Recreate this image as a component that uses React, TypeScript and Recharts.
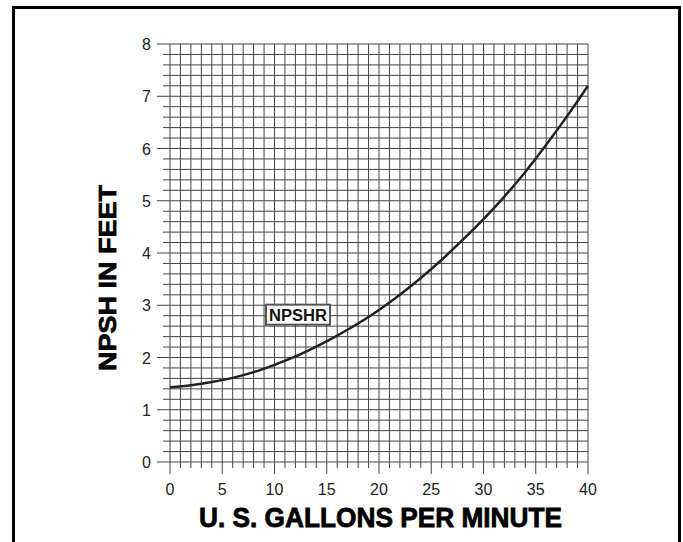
import React from 'react';
import { LineChart, Line, XAxis, YAxis, CartesianGrid, ReferenceDot } from 'recharts';

const gpm = [0, 2, 4, 6, 8, 10, 12, 14, 16, 18, 20, 22, 24, 26, 28, 30, 32, 34, 36, 38, 40];
const npshr = [1.43, 1.47, 1.53, 1.61, 1.72, 1.86, 2.02, 2.21, 2.42, 2.65, 2.91, 3.2, 3.52, 3.87, 4.25, 4.65, 5.08, 5.55, 6.07, 6.62, 7.2];
const xMajorLabels = [0, 5, 10, 15, 20, 25, 30, 35, 40];
const yMajorLabels = [0, 1, 2, 3, 4, 5, 6, 7, 8];
const xTicks = Array.from({ length: 41 }, (_, i) => i);
const yTicks = Array.from({ length: 41 }, (_, i) => Math.round(i * 2) / 10);

const data = gpm.map((g, i) => ({ gpm: g, npsh: npshr[i] }));

const FONT = '"Liberation Sans", Arial, Helvetica, sans-serif';

const XTick = (props: any) => {
  const { x, y, payload } = props;
  const v = payload.value;
  const major = xMajorLabels.includes(v);
  return (
    <g>
      <line x1={x} x2={x} y1={y} y2={y + (major ? 12 : 6)} stroke="#444" strokeWidth={1} />
      {major && (
        <text x={x} y={y + 33} textAnchor="middle" fontFamily={FONT} fontSize={16} fill="#222">
          {v}
        </text>
      )}
    </g>
  );
};

const YTick = (props: any) => {
  const { x, y, payload } = props;
  const v = payload.value;
  const major = yMajorLabels.some((m) => Math.abs(m - v) < 1e-6);
  return (
    <g>
      <line x1={x - (major ? 13 : 7)} x2={x} y1={y} y2={y} stroke="#444" strokeWidth={1} />
      {major && (
        <text x={x - 19} y={y + 6} textAnchor="end" fontFamily={FONT} fontSize={16} fill="#222">
          {Math.round(v)}
        </text>
      )}
    </g>
  );
};

const LabelBox = (props: any) => {
  const { cx, cy } = props;
  return (
    <g>
      <rect x={cx - 32} y={cy - 10} width={64} height={20} fill="#fff" stroke="#555" strokeWidth={2} />
      <text x={cx} y={cy + 6} textAnchor="middle" fontFamily={FONT} fontWeight="bold" fontSize={16} fill="#111" textLength={58} lengthAdjust="spacingAndGlyphs">
        NPSHR
      </text>
    </g>
  );
};

export default function App() {
  return (
    <div style={{ position: 'absolute', left: 0, top: 0, width: 683, height: 542, overflow: 'hidden', background: '#fff' }}>
      <div style={{ position: 'absolute', left: 12, top: 6, width: 663, height: 600, border: '3px solid #000' }} />
      <div style={{ position: 'absolute', left: 0, top: 0 }}>
        <LineChart width={683} height={542} data={data} margin={{ top: 44, right: 95, bottom: 0, left: 0 }}>
          <CartesianGrid stroke="#444" strokeWidth={1} horizontal vertical />
          <XAxis
            dataKey="gpm"
            type="number"
            domain={[0, 40]}
            ticks={xTicks}
            interval={0}
            height={80}
            tickSize={0}
            tickMargin={0}
            axisLine={false}
            tickLine={false}
            tick={<XTick />}
          />
          <YAxis
            type="number"
            domain={[0, 8]}
            ticks={yTicks}
            interval={0}
            width={170}
            tickSize={0}
            tickMargin={0}
            axisLine={false}
            tickLine={false}
            tick={<YTick />}
          />
          <Line type="monotone" dataKey="npsh" stroke="#222" strokeWidth={2.5} dot={false} isAnimationActive={false} />
          <ReferenceDot x={12.25} y={2.82} r={0} shape={<LabelBox />} ifOverflow="visible" />
        </LineChart>
      </div>
      <svg width={683} height={542} style={{ position: 'absolute', left: 0, top: 0, pointerEvents: 'none' }}>
        <text x={380.5} y={527} textAnchor="middle" fontFamily={FONT} fontWeight="bold" fontSize={27} fill="#000" stroke="#000" strokeWidth={0.8} textLength={363} lengthAdjust="spacingAndGlyphs">
          U. S. GALLONS PER MINUTE
        </text>
        <text x={0} y={0} transform="translate(115.5 278) rotate(-90)" textAnchor="middle" fontFamily={FONT} fontWeight="bold" fontSize={23} fill="#000" stroke="#000" strokeWidth={0.7} textLength={186} lengthAdjust="spacingAndGlyphs">
          NPSH IN FEET
        </text>
      </svg>
    </div>
  );
}
